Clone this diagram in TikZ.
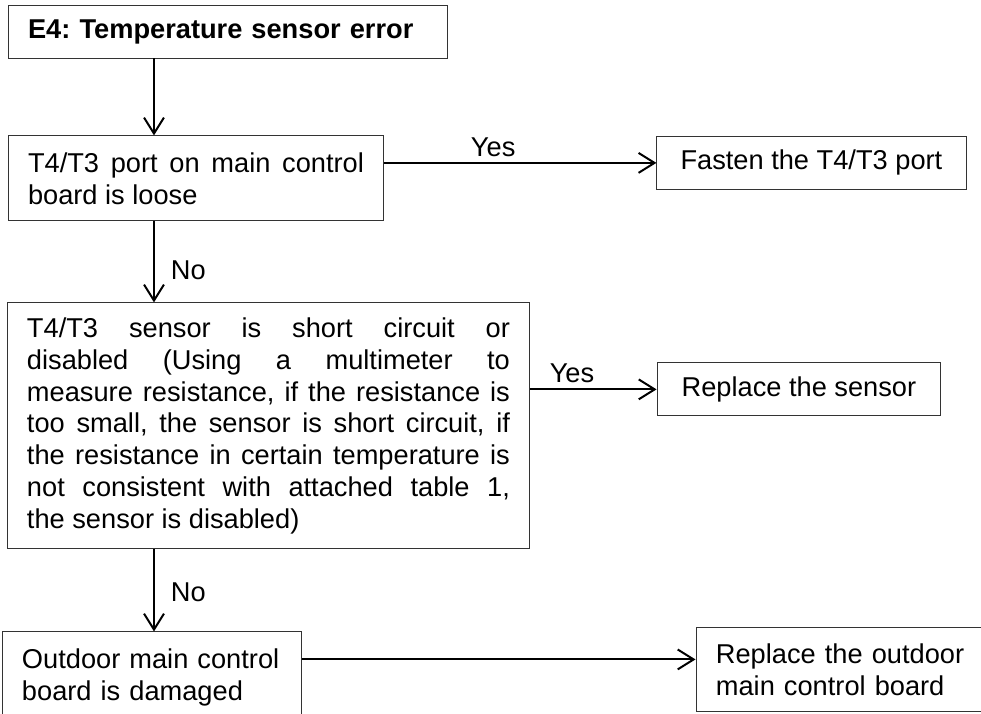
\documentclass[tikz,border=0pt]{standalone}
\usepackage{fontspec}
\setmainfont{Liberation Sans}
\usetikzlibrary{arrows.meta,positioning}
\usepackage{xcolor}
\frenchspacing
\definecolor{frame}{HTML}{333333}
\definecolor{ink}{HTML}{000000}
\tikzset{
  >={Straight Barb[length=12pt,width=15pt]},
  every node/.style={font=\fontsize{20.5}{24}\selectfont,text=ink},
  box/.style={draw=frame,line width=0.7pt,inner xsep=15pt,inner ysep=4pt,align=center},
  textbox/.style={box,align=justify},
  leftbox/.style={box,align=left},
  arrow/.style={->,line width=1.5pt,draw=ink},
  answer/.style={inner sep=4pt},
}

\begin{document}
\begin{tikzpicture}[x=1cm,y=1cm]
  \useasboundingbox (0,0) rectangle (25.96,18.89);
  \coordinate (spine) at (4.075,0);

  \node[leftbox,text width=105.8mm,minimum height=13.8mm] (e4) at (6.033,18.045) {\textbf{E4: Temperature sensor error}};
  \node[textbox,text width=88.9mm,minimum height=22.5mm] (port) at (5.186,14.169) {T4/T3 port on main control board is loose};
  \node[box,minimum width=81.8mm,minimum height=13.8mm] (fasten) at (21.472,14.579) {Fasten the T4/T3 port};
  \draw[arrow] (e4.south -| spine) -- (port.north -| spine);
  \draw[arrow] (port.east |- fasten.west) -- node[answer,pos=0.4,above]{Yes} (fasten.west);

  \node[textbox,text width=127.8mm,minimum height=65.1mm] (sensor) at (7.104,7.620) {T4/T3 sensor is short circuit or\linebreak
    disabled (Using a multimeter to\linebreak
    measure resistance, if the resistance is\linebreak
    too small, the sensor is short circuit, if\linebreak
    the resistance in certain temperature is\linebreak
    not consistent with attached table 1,\linebreak
    the sensor is disabled)};
  \node[box,minimum width=75.1mm,minimum height=14mm] (rsensor) at (21.142,8.586) {Replace the sensor};
  \draw[arrow] (port.south -| spine) -- node[answer,pos=0.6,right=8pt]{No} (sensor.north -| spine);
  \draw[arrow] (sensor.east |- rsensor.west) -- node[answer,pos=0.33,above]{Yes} (rsensor.west);

  \node[leftbox,text width=68.8mm,minimum height=24.3mm] (outdoor) at (4.022,0.952) {Outdoor main control\\board is damaged};
  \node[leftbox,text width=68.8mm,minimum height=22.2mm] (rboard) at (22.385,1.164) {Replace the outdoor\\main control board};
  \draw[arrow] (sensor.south -| spine) -- node[answer,pos=0.52,right=8pt]{No} (outdoor.north -| spine);
  \coordinate (tap) at ([yshift=-7.4mm]outdoor.north east);
  \draw[arrow] (tap) -- (tap -| rboard.west);
\end{tikzpicture}
\end{document}
